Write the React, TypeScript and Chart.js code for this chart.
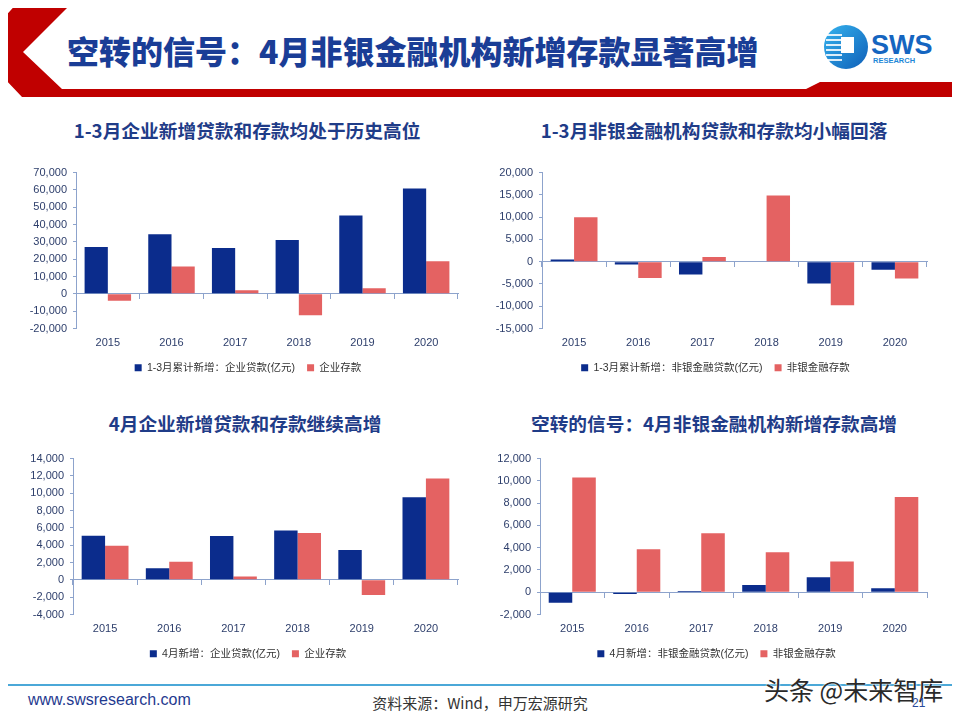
import React, { useEffect, useRef } from "react";
import { Chart, registerables } from "chart.js";

Chart.register(...registerables);

// Years on the category axis
const years = ["2015", "2016", "2017", "2018", "2019", "2020"];

// Jan–Mar cumulative, corporate (100m yuan)
const q1CorpLoans = [27100, 34400, 26500, 31100, 45200, 60800];
const q1CorpDeposits = [-4000, 15800, 2100, -12300, 3300, 18800];

// Jan–Mar cumulative, non-bank financial institutions
const q1NbfiLoans = [500, -650, -2900, -150, -4900, -1800];
const q1NbfiDeposits = [9950, -3650, 1050, 14850, -9800, -3750];

// April, corporate
const aprCorpLoans = [5100, 1350, 5050, 5700, 3450, 9550];
const aprCorpDeposits = [3950, 2100, 400, 5400, -1750, 11700];

// April, non-bank financial institutions
const aprNbfiLoans = [-950, -150, 100, 650, 1350, 350];
const aprNbfiDeposits = [10300, 3850, 5300, 3600, 2750, 8550];

const NAVY = "#0B2C8C";
const SALMON = "#E46262";
const AXIS = "#8DA3CC";
const TICK_TEXT = "#2D3E6B";
const FONT = "'Liberation Sans', Arial, 'Noto Sans CJK SC', sans-serif";
const CJK = "'Noto Sans CJK SC', 'Microsoft YaHei', sans-serif";

// Nudges the bottom legend sideways after layout so it sits under the bars' centre
const legendShift = {
  id: "legendShift",
  afterLayout(chart: any, _args: any, opts: any) {
    const lg = chart.legend;
    if (!lg || !opts || !opts.dx) return;
    lg.left += opts.dx;
    lg.right += opts.dx;
  },
};

type PanelProps = {
  left: number;
  top: number;
  width: number;
  height: number;
  yWidth: number;
  padTop: number;
  padRight: number;
  legendDx: number;
  loans: number[];
  deposits: number[];
  loanName: string;
  depositName: string;
  yMin: number;
  yMax: number;
  step: number;
};

function BarPanel(p: PanelProps) {
  const ref = useRef<HTMLCanvasElement | null>(null);

  useEffect(() => {
    if (!ref.current) return;
    const chart = new Chart(ref.current, {
      type: "bar",
      data: {
        labels: years,
        datasets: [
          {
            label: p.loanName,
            data: p.loans,
            backgroundColor: NAVY,
            xAxisID: "x",
            categoryPercentage: 0.73,
            barPercentage: 1,
          },
          {
            label: p.depositName,
            data: p.deposits,
            backgroundColor: SALMON,
            xAxisID: "x",
            categoryPercentage: 0.73,
            barPercentage: 1,
          },
        ],
      },
      plugins: [legendShift],
      options: {
        animation: false,
        responsive: false,
        maintainAspectRatio: false,
        layout: { padding: { top: p.padTop, right: p.padRight, left: 0, bottom: 0 } },
        plugins: {
          tooltip: { enabled: false },
          legendShift: { dx: p.legendDx },
          legend: {
            position: "bottom",
            labels: {
              boxWidth: 7,
              boxHeight: 7,
              padding: 12,
              color: "#333333",
              font: { family: FONT, size: 10.5 },
            },
          },
        },
        scales: {
          x: {
            type: "category",
            position: "bottom",
            grid: { display: false, drawTicks: false },
            border: { display: false },
            ticks: {
              autoSkip: false,
              maxRotation: 0,
              color: TICK_TEXT,
              font: { family: FONT, size: 11 },
              padding: 8,
            },
            afterFit: (s: any) => {
              s.height = 22;
            },
          },
          xz: {
            type: "category",
            position: { y: 0 } as any,
            offset: true,
            grid: {
              offset: true,
              drawOnChartArea: false,
              drawTicks: true,
              tickLength: 5,
              color: AXIS,
            },
            border: { display: true, color: AXIS, width: 1 },
            ticks: { display: false },
          },
          y: {
            min: p.yMin,
            max: p.yMax,
            grid: {
              drawOnChartArea: false,
              drawTicks: true,
              tickLength: 3,
              color: AXIS,
            },
            border: { display: true, color: AXIS, width: 1 },
            ticks: {
              autoSkip: false,
              stepSize: p.step,
              padding: 6,
              color: TICK_TEXT,
              font: { family: FONT, size: 11 },
              callback: (v: any) => Number(v).toLocaleString("en-US"),
            },
            afterFit: (s: any) => {
              s.width = p.yWidth;
            },
          },
        },
      } as any,
    });
    return () => chart.destroy();
  }, []);

  return (
    <canvas
      ref={ref}
      width={p.width}
      height={p.height}
      style={{ position: "absolute", left: p.left, top: p.top, width: p.width, height: p.height }}
    />
  );
}

function PanelTitle({ cx, cy, text }: { cx: number; cy: number; text: string }) {
  return (
    <div
      style={{
        position: "absolute",
        left: cx - 230,
        top: cy - 14,
        width: 460,
        height: 28,
        lineHeight: "28px",
        textAlign: "center",
        fontFamily: CJK,
        fontWeight: 700,
        fontSize: 18.7,
        color: "#1F3C88",
        whiteSpace: "nowrap",
      }}
    >
      {text}
    </div>
  );
}

function Header() {
  return (
    <svg width={960} height={100} style={{ position: "absolute", left: 0, top: 0 }}>
      <polygon
        points="20,0 75,0 23,52 62,89 806,89 820,82 960,82 960,97 22,97 0,74 0,22"
        fill="#C00000"
      />
      {/* logo mark */}
      <defs>
        <linearGradient id="swsg" x1="0" y1="0" x2="1" y2="1">
          <stop offset="0" stopColor="#35B3EE" />
          <stop offset="1" stopColor="#0F5FB8" />
        </linearGradient>
      </defs>
      <circle cx={846} cy={47} r={22} fill="url(#swsg)" />
      {[34, 39, 44, 49, 54, 59].map((y) => (
        <rect key={y} x={826} y={y} width={16} height={2} fill="#FFFFFF" opacity={0.85} />
      ))}
      <rect x={841} y={37} width={13} height={16} fill="#FFFFFF" />
      <text x={871} y={54} fontFamily="'Liberation Sans', Arial, sans-serif" fontWeight={700} fontSize={27} fill="#1565C0">
        SWS
      </text>
      <text x={873} y={63} fontFamily="'Liberation Sans', Arial, sans-serif" fontWeight={700} fontSize={7.5} fill="#1E88D8">
        RESEARCH
      </text>
    </svg>
  );
}

export default function App() {
  return (
    <div style={{ position: "relative", width: 960, height: 720, background: "#FFFFFF", overflow: "hidden", margin: -8 }}>
      <Header />
      <div
        style={{
          position: "absolute",
          left: 67,
          top: 31,
          height: 38,
          lineHeight: "38px",
          fontFamily: CJK,
          fontWeight: 900,
          fontSize: 32,
          color: "#1A3D96",
          whiteSpace: "nowrap",
        }}
      >
        空转的信号：4月非银金融机构新增存款显著高增
      </div>

      <PanelTitle cx={247} cy={130} text="1-3月企业新增贷款和存款均处于历史高位" />
      <PanelTitle cx={714} cy={130} text="1-3月非银金融机构贷款和存款均小幅回落" />
      <PanelTitle cx={245} cy={423} text="4月企业新增贷款和存款继续高增" />
      <PanelTitle cx={714} cy={423} text="空转的信号：4月非银金融机构新增存款高增" />

      <BarPanel
        left={10}
        top={160}
        width={460}
        height={223}
        yWidth={66}
        padTop={12}
        padRight={12}
        legendDx={14}
        loans={q1CorpLoans}
        deposits={q1CorpDeposits}
        loanName="1-3月累计新增：企业贷款(亿元)"
        depositName="企业存款"
        yMin={-20000}
        yMax={70000}
        step={10000}
      />
      <BarPanel
        left={480}
        top={160}
        width={460}
        height={223}
        yWidth={62}
        padTop={12}
        padRight={13}
        legendDx={12}
        loans={q1NbfiLoans}
        deposits={q1NbfiDeposits}
        loanName="1-3月累计新增：非银金融贷款(亿元)"
        depositName="非银金融存款"
        yMin={-15000}
        yMax={20000}
        step={5000}
      />
      <BarPanel
        left={10}
        top={446}
        width={460}
        height={223}
        yWidth={63}
        padTop={12}
        padRight={12}
        legendDx={14}
        loans={aprCorpLoans}
        deposits={aprCorpDeposits}
        loanName="4月新增：企业贷款(亿元)"
        depositName="企业存款"
        yMin={-4000}
        yMax={14000}
        step={2000}
      />
      <BarPanel
        left={480}
        top={446}
        width={460}
        height={223}
        yWidth={60}
        padTop={12}
        padRight={13}
        legendDx={13}
        loans={aprNbfiLoans}
        deposits={aprNbfiDeposits}
        loanName="4月新增：非银金融贷款(亿元)"
        depositName="非银金融存款"
        yMin={-2000}
        yMax={12000}
        step={2000}
      />

      {/* footer */}
      <div style={{ position: "absolute", left: 0, top: 684, width: 960, height: 2, background: "#4BA8D8" }} />
      <div
        style={{
          position: "absolute",
          left: 28,
          top: 691,
          fontFamily: FONT,
          fontSize: 16,
          color: "#1F3A8F",
          whiteSpace: "nowrap",
        }}
      >
        www.swsresearch.com
      </div>
      <div
        style={{
          position: "absolute",
          left: 330,
          width: 300,
          top: 692,
          textAlign: "center",
          fontFamily: CJK,
          fontSize: 15,
          color: "#333333",
          whiteSpace: "nowrap",
        }}
      >
        资料来源：Wind，申万宏源研究
      </div>
      <div
        style={{
          position: "absolute",
          left: 764,
          top: 671,
          fontFamily: CJK,
          fontSize: 25,
          color: "#2A2A2A",
          whiteSpace: "nowrap",
          textShadow: "0 0 2px #FFFFFF, 0 0 2px #FFFFFF",
        }}
      >
        头条 @未来智库
      </div>
      <div
        style={{
          position: "absolute",
          left: 912,
          top: 696,
          fontFamily: FONT,
          fontSize: 12,
          color: "#2A4A9A",
        }}
      >
        21
      </div>
    </div>
  );
}
